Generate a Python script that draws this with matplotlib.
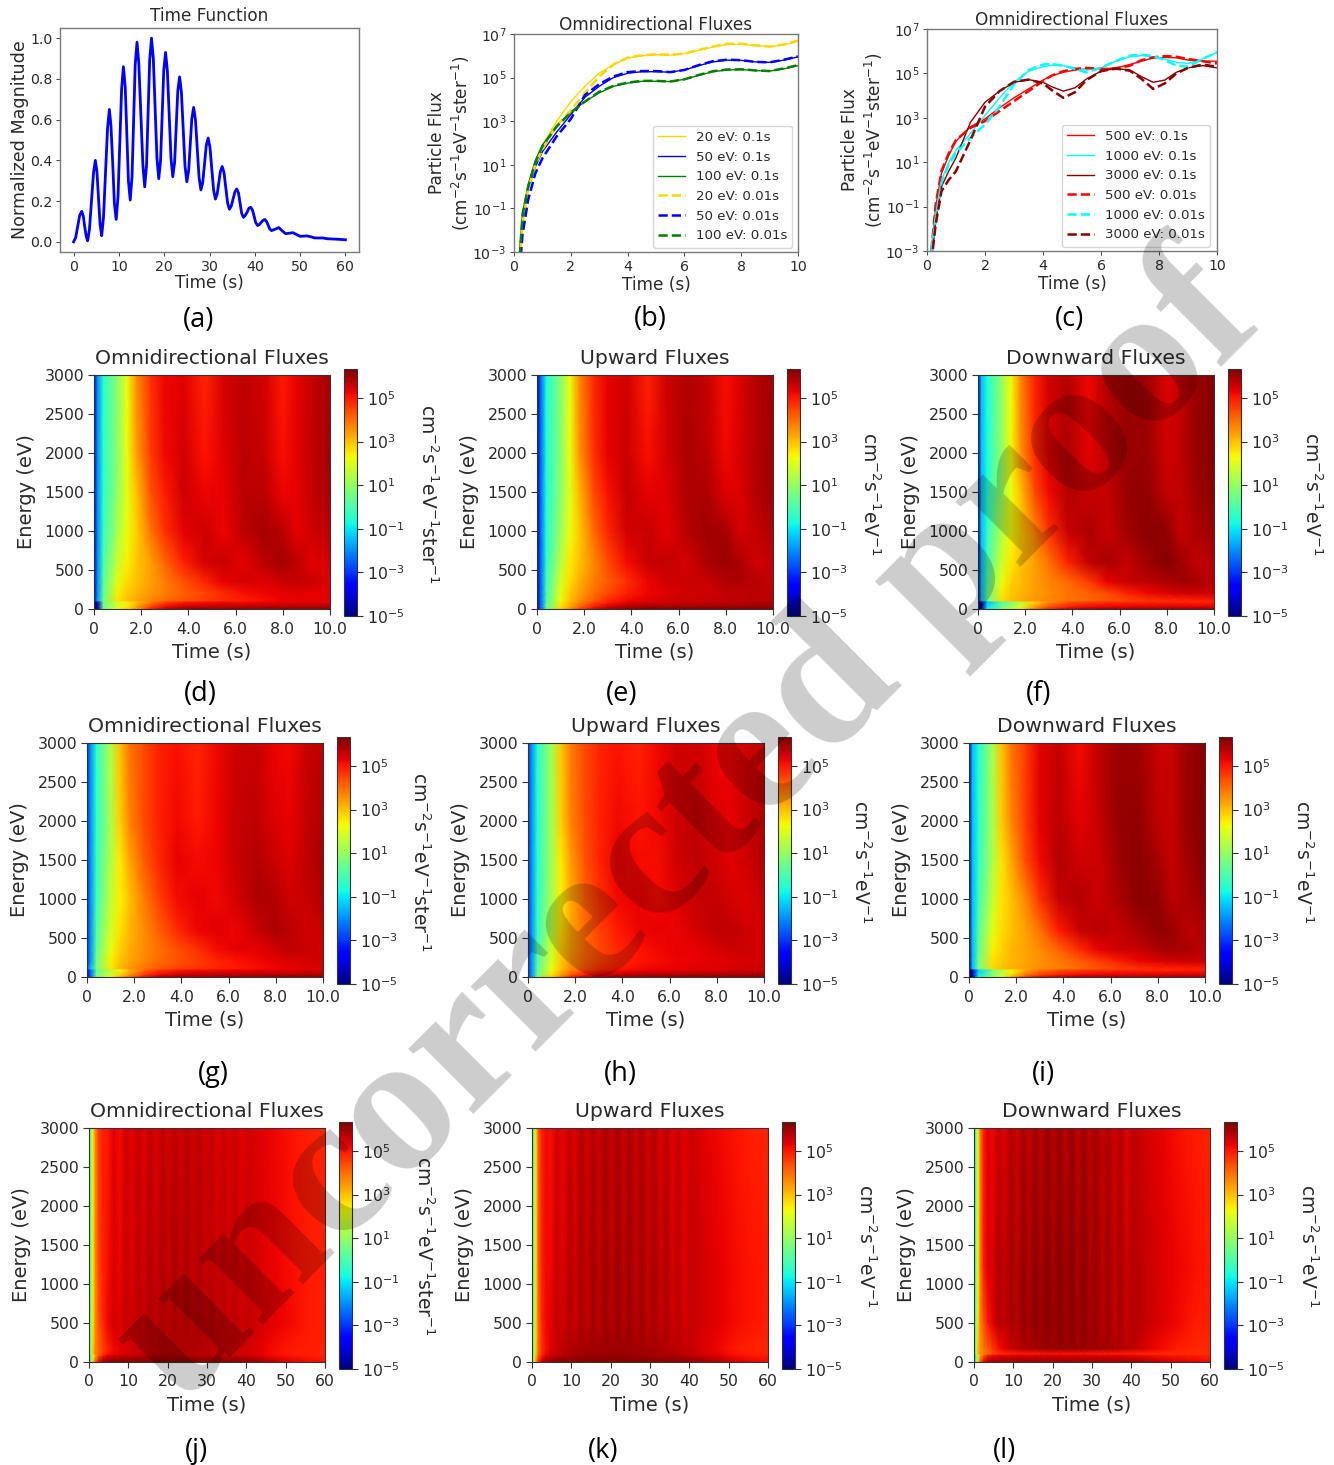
import numpy as np
import matplotlib
matplotlib.use("Agg")
import matplotlib.pyplot as plt
from matplotlib.colors import LogNorm

W, H = 1334, 1465

# (a) time function
pulse_t = [0, .45, .9, 1.35, 1.8, 2.15, 2.45, 2.8, 3.1, 3.5, 3.95, 4.4, 4.8, 5.15, 5.5, 5.85, 6.2,
           6.6, 7.05, 7.5, 7.9, 8.25, 8.65, 9, 9.4, 9.8, 10.2, 10.6, 11, 11.4, 11.75, 12.1, 12.5,
           12.9, 13.25, 13.6, 14, 14.4, 14.85, 15.3, 15.7, 16.1, 16.45, 16.8, 17.2, 17.6, 18, 18.4, 18.8,
           19.2, 19.55, 19.9, 20.3, 20.7, 21.1, 21.5, 21.9, 22.3, 22.65, 23, 23.4, 23.8, 24.2, 24.6, 25,
           25.4, 25.75, 26.1, 26.5, 26.9, 27.3, 27.7, 28.1, 28.5, 28.9, 29.3, 29.7, 30.1, 30.5, 30.9, 31.3,
           31.7, 32.05, 32.4, 32.8, 33.2, 33.6, 34, 34.4, 34.8, 35.2, 35.6, 36, 36.4, 36.75, 37.1, 37.5,
           37.9, 38.3, 38.7, 39.1, 39.5, 39.85, 40.2, 40.6, 41, 41.4, 41.8, 42.2, 42.6, 42.95, 43.3, 43.7,
           44.5, 45.3, 46, 46.8, 47.6, 48.4, 49.2, 50, 51.5, 52.5, 53.2, 55, 56, 58, 60]
pulse_y = [0, .02, .075, .13, .15, .125, .075, .025, .005, .06, .2, .34, .40, .345, .215, .085, .03,
           .12, .34, .56, .65, .57, .38, .19, .11, .22, .485, .75, .86, .76, .53, .30, .205,
           .32, .59, .87, .98, .875, .625, .375, .27, .375, .635, .895, 1.0, .9, .655, .41, .31,
           .4, .62, .84, .93, .84, .625, .41, .32, .39, .565, .74, .81, .735, .55, .37, .295,
           .35, .48, .605, .66, .6, .46, .315, .255, .29, .38, .475, .51, .465, .36, .255, .21,
           .235, .29, .345, .37, .34, .265, .19, .16, .175, .21, .245, .26, .24, .19, .14, .12,
           .13, .145, .165, .17, .155, .125, .095, .08, .085, .095, .105, .11, .1, .082, .063, .055,
           .062, .07, .055, .04, .042, .045, .036, .027, .029, .024, .019, .019, .015, .013, .01]

# (b) log10 flux
t_b = [.2, .3, .5, .75, 1, 1.5, 2, 2.5, 3, 3.5, 4, 4.5, 5, 5.5, 6, 6.5, 7, 7.5, 8, 8.5, 9, 9.5, 10]
b_20_01 = [-3, -1.4, 0, 1.1, 1.9, 3.0, 3.9, 4.6, 5.2, 5.6, 5.9, 6.0, 6.05, 6.03, 6.1, 6.25, 6.4, 6.52, 6.53, 6.47, 6.42, 6.5, 6.67]
b_50_01 = [-3, -1.6, -.1, .9, 1.6, 2.5, 3.3, 4.1, 4.6, 5.0, 5.2, 5.27, 5.27, 5.25, 5.35, 5.55, 5.72, 5.8, 5.79, 5.72, 5.7, 5.8, 5.95]
b_100_01 = [-3, -1.2, .1, 1.2, 1.9, 2.8, 3.4, 3.9, 4.3, 4.6, 4.75, 4.83, 4.83, 4.82, 4.92, 5.1, 5.27, 5.35, 5.37, 5.32, 5.3, 5.4, 5.55]
b_20_001 = [-3.6, -1.7, -.1, 1.0, 1.7, 2.8, 3.5, 4.3, 5.05, 5.6, 5.92, 6.02, 6.07, 6.05, 6.1, 6.27, 6.42, 6.55, 6.55, 6.48, 6.42, 6.52, 6.7]
b_50_001 = [-3.8, -2.2, -.6, .6, 1.3, 2.3, 3.1, 4.2, 4.7, 5.05, 5.25, 5.3, 5.3, 5.25, 5.35, 5.57, 5.75, 5.82, 5.8, 5.72, 5.7, 5.82, 5.97]
b_100_001 = [-3.2, -1.3, 0, 1.1, 1.85, 2.75, 3.4, 3.9, 4.35, 4.62, 4.77, 4.85, 4.85, 4.82, 4.92, 5.12, 5.29, 5.37, 5.38, 5.33, 5.3, 5.42, 5.57]

# (c) log10 flux
t_c = [.15, .3, .5, .75, 1, 1.5, 2, 2.5, 3, 3.5, 4, 4.3, 4.7, 5.1, 5.5, 6, 6.5, 7, 7.4, 7.8, 8.2, 8.6, 9, 9.5, 10]
c_500_01 = [-3, -1, .5, 1.3, 1.95, 2.6, 2.95, 3.45, 3.9, 4.3, 4.7, 4.9, 5.05, 5.15, 5.2, 5.2, 5.25, 5.4, 5.55, 5.7, 5.72, 5.7, 5.6, 5.55, 5.55]
c_1000_01 = [-3, -1.3, .2, 1, 1.55, 2.3, 3.1, 3.9, 4.6, 5.1, 5.3, 5.37, 5.35, 5.25, 5.15, 5.25, 5.55, 5.75, 5.8, 5.75, 5.65, 5.5, 5.45, 5.65, 5.95]
c_3000_01 = [-3.5, -1.7, -.1, .6, 1.2, 2.8, 3.7, 4.2, 4.6, 4.72, 4.6, 4.4, 4.2, 4.35, 4.75, 5.1, 5.22, 5.15, 4.85, 4.6, 4.7, 5.05, 5.25, 5.35, 5.25]
c_500_001 = [-3, -.9, .6, 1.4, 2.0, 2.55, 2.85, 3.3, 3.75, 4.2, 4.65, 4.9, 5.1, 5.2, 5.25, 5.2, 5.2, 5.35, 5.6, 5.72, 5.78, 5.75, 5.65, 5.55, 5.45]
c_1000_001 = [-3, -1.5, .1, .9, 1.4, 2.1, 2.7, 3.5, 4.5, 5.15, 5.4, 5.42, 5.35, 5.2, 5.05, 5.25, 5.55, 5.8, 5.85, 5.78, 5.6, 5.35, 5.3, 5.65, 5.95]
c_3000_001 = [-3.5, -1.8, -.3, .2, .6, 2.0, 3.5, 4.2, 4.62, 4.72, 4.55, 4.25, 3.9, 4.15, 4.7, 5.1, 5.22, 5.12, 4.75, 4.3, 4.55, 5.0, 5.25, 5.4, 5.3]

# heat maps, log10 flux, rows run from the top energy to 0 eV
t10 = [0, .15, .4, 1, 1.4, 1.8, 2.4, 3, 3.8, 4.7, 5.5, 6.3, 7.2, 8, 8.6, 9.3, 10]
e10 = [3000, 2000, 1500, 1000, 600, 350, 200, 110, 90, 30, 0]

grid_d = [
    [-4, -2, -.4, .9, 2.2, 3.6, 4.7, 5.25, 5.35, 4.85, 5.45, 5.7, 5.5, 5.0, 5.3, 5.7, 5.9],
    [-4, -2, -.4, .9, 2.2, 3.4, 4.6, 5.2, 5.5, 5.05, 5.4, 5.75, 5.6, 5.1, 5.35, 5.7, 5.95],
    [-4, -2, -.4, 1.0, 2.1, 3.0, 4.3, 5.0, 5.55, 5.25, 5.3, 5.75, 5.75, 5.25, 5.3, 5.7, 5.9],
    [-4, -2, -.3, 1.3, 2.2, 2.8, 3.9, 4.7, 5.35, 5.55, 5.25, 5.7, 5.95, 5.75, 5.3, 5.55, 5.75],
    [-4, -2, 0, 1.7, 2.4, 2.9, 3.4, 4.1, 4.95, 5.45, 5.6, 5.3, 5.75, 5.95, 5.7, 5.35, 5.5],
    [-4, -2, .2, 2.1, 2.7, 3.0, 3.4, 3.8, 4.3, 4.9, 5.3, 5.45, 5.4, 5.6, 5.65, 5.55, 5.4],
    [-4, -2, .3, 2.4, 2.9, 3.1, 3.5, 3.8, 4.2, 4.5, 4.8, 5.1, 5.25, 5.3, 5.35, 5.35, 5.4],
    [-3.5, -1.8, .5, 2.6, 3.0, 3.3, 3.7, 4.0, 4.3, 4.6, 4.8, 4.95, 5.1, 5.3, 5.3, 5.35, 5.4],
    [-5, -4.5, .4, 1.8, 2.4, 3.0, 3.8, 4.5, 5.0, 5.1, 5.2, 5.2, 5.25, 5.3, 5.3, 5.35, 5.4],
    [-5, -4.5, .5, 2.0, 2.5, 3.3, 4.5, 5.2, 5.6, 5.7, 5.7, 5.75, 5.8, 5.8, 5.8, 5.8, 5.8],
    [-5, -4.5, .5, 2.2, 2.8, 3.6, 5.0, 5.8, 6.1, 6.2, 6.2, 6.2, 6.2, 6.2, 6.2, 6.2, 6.2],
]
grid_e = [
    [-4.5, -2.5, -.6, .8, 2.2, 3.7, 4.8, 5.35, 5.5, 4.9, 5.55, 5.8, 5.65, 5.1, 5.4, 5.8, 5.95],
    [-4.5, -2.5, -.6, .8, 2.2, 3.5, 4.7, 5.3, 5.6, 5.1, 5.5, 5.85, 5.75, 5.2, 5.45, 5.8, 6.0],
    [-4.5, -2.5, -.6, .9, 2.1, 3.1, 4.4, 5.1, 5.65, 5.3, 5.4, 5.85, 5.85, 5.4, 5.4, 5.8, 6.0],
    [-4.5, -2.5, -.5, 1.1, 2.2, 2.9, 4.0, 4.85, 5.5, 5.6, 5.35, 5.75, 6.0, 5.9, 5.45, 5.65, 5.85],
    [-4.5, -2.5, -.4, 1.5, 2.5, 3.0, 3.7, 4.4, 5.15, 5.6, 5.65, 5.45, 5.85, 6.05, 5.85, 5.5, 5.65],
    [-4.5, -2.5, -.2, 1.9, 2.7, 3.2, 3.8, 4.2, 4.75, 5.25, 5.5, 5.55, 5.6, 5.8, 5.85, 5.75, 5.65],
    [-4.5, -2.5, -.1, 2.1, 2.9, 3.4, 4.0, 4.45, 4.95, 5.25, 5.4, 5.5, 5.55, 5.65, 5.7, 5.75, 5.75],
    [-4.5, -2.5, 0, 2.3, 3.0, 3.6, 4.2, 4.8, 5.2, 5.4, 5.5, 5.55, 5.6, 5.7, 5.7, 5.75, 5.75],
    [-4.5, -2.5, .1, 2.4, 3.1, 3.7, 4.4, 4.9, 5.3, 5.45, 5.55, 5.6, 5.65, 5.7, 5.75, 5.8, 5.8],
    [-4.5, -2.5, .3, 2.6, 3.4, 4.1, 5, 5.5, 5.85, 5.95, 6, 6, 6.05, 6.05, 6.05, 6.05, 6.05],
    [-4.5, -2.5, .5, 2.9, 3.8, 4.6, 5.5, 6, 6.2, 6.25, 6.3, 6.3, 6.3, 6.3, 6.3, 6.3, 6.3],
]
grid_f = [
    [-4.5, -1.5, -.6, 1.0, 2.3, 3.7, 4.9, 5.5, 5.8, 5.2, 5.85, 6.05, 6.0, 5.4, 5.7, 6.1, 6.25],
    [-4.5, -1.5, -.6, 1.0, 2.3, 3.5, 4.8, 5.45, 5.85, 5.35, 5.75, 6.1, 6.05, 5.5, 5.7, 6.1, 6.25],
    [-4.5, -1.5, -.5, 1.1, 2.2, 3.0, 4.4, 5.2, 5.8, 5.6, 5.65, 6.1, 6.15, 5.65, 5.65, 6.05, 6.2],
    [-4.5, -1.5, -.3, 1.4, 2.3, 2.85, 3.7, 4.7, 5.6, 5.85, 5.6, 5.95, 6.2, 6.15, 5.65, 5.85, 6.05],
    [-4.5, -1.5, -.1, 1.8, 2.5, 2.95, 3.4, 3.9, 4.9, 5.7, 5.9, 5.65, 6.0, 6.25, 6.0, 5.65, 5.8],
    [-4.5, -1.5, .1, 2.2, 2.8, 3.05, 3.4, 3.7, 4.0, 4.6, 5.3, 5.6, 5.7, 5.85, 6.0, 5.9, 5.7],
    [-4.5, -1.5, .3, 2.5, 2.9, 3.1, 3.4, 3.6, 3.9, 4.15, 4.4, 4.9, 5.2, 5.4, 5.5, 5.55, 5.55],
    [-4.5, -1.5, .5, 2.7, 3.0, 3.2, 3.5, 3.7, 3.9, 4.1, 4.3, 4.5, 4.65, 4.8, 4.85, 4.9, 4.95],
    [-5, -4.8, -1.5, .1, .7, 1.5, 2.8, 3.6, 4.3, 4.6, 4.75, 4.8, 4.85, 4.85, 4.9, 4.9, 4.95],
    [-5, -4.8, -1, .4, 1.1, 2.0, 3.4, 4.3, 4.9, 5.2, 5.3, 5.35, 5.4, 5.4, 5.4, 5.4, 5.4],
    [-5, -4.8, -.8, .8, 1.6, 2.6, 4, 5, 5.7, 6, 6.1, 6.1, 6.1, 6.1, 6.1, 6.1, 6.1],
]
grid_g = [
    [-3, -2, -.4, 1.4, 3.0, 3.9, 4.4, 4.9, 5.1, 4.85, 5.2, 5.55, 5.6, 5.25, 5.2, 5.6, 5.7],
    [-3, -2, -.4, 1.3, 2.8, 3.7, 4.4, 4.9, 5.2, 5.0, 5.25, 5.6, 5.7, 5.4, 5.3, 5.65, 5.85],
    [-3, -2, -.3, 1.4, 2.5, 3.3, 4.2, 4.8, 5.3, 5.15, 5.25, 5.6, 5.8, 5.55, 5.4, 5.7, 5.95],
    [-3, -2, -.2, 1.6, 2.4, 3.0, 3.8, 4.5, 5.15, 5.35, 5.2, 5.45, 5.85, 5.8, 5.5, 5.6, 5.8],
    [-3, -2, .1, 1.9, 2.6, 3.1, 3.6, 4.1, 4.8, 5.25, 5.4, 5.25, 5.6, 5.85, 5.75, 5.5, 5.6],
    [-3, -2, .3, 2.2, 2.8, 3.2, 3.6, 3.9, 4.3, 4.7, 5.15, 5.35, 5.3, 5.55, 5.7, 5.6, 5.5],
    [-3, -2, .5, 2.4, 3.0, 3.3, 3.7, 4.0, 4.3, 4.6, 4.85, 5.05, 5.2, 5.3, 5.4, 5.45, 5.5],
    [-2.5, -1.5, .6, 2.5, 3.1, 3.5, 3.9, 4.2, 4.5, 4.7, 4.85, 5.0, 5.1, 5.25, 5.3, 5.4, 5.45],
    [-3.5, -2.5, .3, 1.5, 2.3, 3.1, 4.0, 4.6, 5.0, 5.15, 5.2, 5.3, 5.3, 5.35, 5.4, 5.45, 5.5],
    [-3.5, -2.5, .5, 1.9, 2.8, 3.5, 4.6, 5.2, 5.5, 5.65, 5.7, 5.75, 5.8, 5.8, 5.85, 5.85, 5.85],
    [-3.5, -2.5, .6, 2.3, 3.2, 4.2, 5.2, 5.8, 6.05, 6.15, 6.2, 6.2, 6.2, 6.2, 6.2, 6.2, 6.2],
]
grid_h = [
    [-3, -2, -.5, 1.2, 2.9, 3.8, 4.4, 4.85, 5.05, 4.9, 5.2, 5.5, 5.5, 5.25, 5.3, 5.55, 5.65],
    [-3, -2, -.5, 1.2, 2.8, 3.7, 4.4, 4.9, 5.2, 5.05, 5.2, 5.55, 5.7, 5.4, 5.3, 5.6, 5.8],
    [-3, -2, -.5, 1.2, 2.5, 3.4, 4.3, 4.85, 5.3, 5.15, 5.15, 5.5, 5.7, 5.5, 5.35, 5.55, 5.8],
    [-3, -2, -.4, 1.3, 2.4, 3.2, 4.1, 4.7, 5.2, 5.3, 5.15, 5.4, 5.65, 5.65, 5.45, 5.4, 5.65],
    [-3, -2, -.3, 1.5, 2.6, 3.3, 4.0, 4.5, 5.0, 5.25, 5.3, 5.25, 5.5, 5.7, 5.7, 5.5, 5.5],
    [-3, -2, -.1, 1.8, 2.8, 3.4, 4.0, 4.4, 4.85, 5.05, 5.2, 5.3, 5.3, 5.45, 5.55, 5.55, 5.5],
    [-3, -2, .1, 2.0, 2.9, 3.5, 4.1, 4.5, 4.85, 5.05, 5.15, 5.25, 5.3, 5.35, 5.4, 5.45, 5.5],
    [-3, -2, .2, 2.2, 3.0, 3.6, 4.3, 4.7, 5.0, 5.15, 5.25, 5.3, 5.35, 5.4, 5.45, 5.5, 5.5],
    [-3, -2, .3, 2.3, 3.1, 3.7, 4.4, 4.8, 5.1, 5.25, 5.3, 5.35, 5.4, 5.45, 5.5, 5.5, 5.55],
    [-3, -2, .5, 2.6, 3.4, 4.2, 5.0, 5.4, 5.7, 5.8, 5.85, 5.85, 5.9, 5.9, 5.9, 5.9, 5.9],
    [-3, -2, .8, 3.0, 4.0, 5.0, 5.8, 6.1, 6.2, 6.2, 6.2, 6.2, 6.2, 6.2, 6.2, 6.2, 6.2],
]
grid_i = [
    [-4.5, -1.5, -.6, 1.3, 3.0, 3.9, 4.6, 5.35, 5.65, 5.15, 5.7, 6.05, 6.0, 5.6, 5.6, 6.05, 6.2],
    [-4.5, -1.5, -.5, 1.3, 2.9, 3.7, 4.6, 5.35, 5.75, 5.35, 5.65, 6.1, 6.15, 5.7, 5.6, 6.1, 6.25],
    [-4.5, -1.5, -.4, 1.4, 2.6, 3.3, 4.4, 5.2, 5.8, 5.55, 5.55, 6.0, 6.2, 5.9, 5.6, 6.0, 6.25],
    [-4.5, -1.5, -.2, 1.7, 2.6, 3.0, 3.7, 4.7, 5.6, 5.8, 5.55, 5.85, 6.2, 6.15, 5.75, 5.85, 6.1],
    [-4.5, -1.5, .1, 2.1, 2.7, 3.0, 3.4, 3.9, 5.0, 5.6, 5.75, 5.6, 5.9, 6.15, 6.05, 5.75, 5.8],
    [-4.5, -1.5, .3, 2.4, 2.8, 3.1, 3.35, 3.6, 4.1, 4.8, 5.3, 5.55, 5.6, 5.85, 5.95, 5.85, 5.7],
    [-4.5, -1.5, .5, 2.6, 2.9, 3.1, 3.35, 3.55, 3.85, 4.2, 4.55, 4.95, 5.25, 5.4, 5.5, 5.55, 5.55],
    [-4.5, -1.5, .6, 2.7, 3.0, 3.2, 3.4, 3.6, 3.8, 4.05, 4.3, 4.5, 4.7, 4.85, 4.9, 4.95, 5.0],
    [-5, -4.5, -1.3, .5, 1.4, 2.3, 3.3, 3.9, 4.3, 4.6, 4.7, 4.8, 4.85, 4.9, 4.9, 4.95, 5.0],
    [-5, -4.5, -1, .8, 1.7, 2.7, 3.9, 4.5, 5, 5.2, 5.3, 5.35, 5.4, 5.4, 5.45, 5.45, 5.45],
    [-5, -4.5, -.5, 1.2, 2.2, 3.4, 4.7, 5.4, 5.8, 5.9, 6, 6, 6, 6, 6, 6, 6],
]

t60 = [0, .3, .6, 1, 1.6, 2.5, 3.5, 4.7, 6.3, 7.8, 9.4, 10.9, 12.5, 14, 15.6, 17.1, 18.7, 20.2, 21.8,
       23.3, 24.9, 26.4, 28, 29.5, 31.1, 32.6, 34.2, 35.7, 37.3, 38.8, 40.4, 44, 48, 52, 56, 60]
e60 = [3000, 1200, 500, 170, 105, 90, 0]

grid_j = [
    [-1, -.3, 1.0, 2.5, 3.6, 4.6, 4.95, 5.0, 5.4, 5.15, 5.55, 5.3, 5.65, 5.35, 5.7, 5.4, 5.75, 5.45, 5.75, 5.5, 5.75, 5.5, 5.7, 5.45, 5.65, 5.4, 5.6, 5.4, 5.55, 5.35, 5.5, 5.35, 5.2, 5.05, 4.95, 4.85],
    [-1, -.3, 1.0, 2.5, 3.6, 4.5, 4.9, 5.1, 5.45, 5.25, 5.6, 5.4, 5.7, 5.5, 5.8, 5.55, 5.85, 5.6, 5.9, 5.65, 5.85, 5.65, 5.8, 5.6, 5.75, 5.55, 5.7, 5.5, 5.65, 5.45, 5.6, 5.4, 5.25, 5.1, 5.0, 4.95],
    [-1, -.2, 1.1, 2.6, 3.6, 4.3, 4.8, 5.2, 5.5, 5.4, 5.65, 5.5, 5.75, 5.6, 5.85, 5.7, 5.9, 5.75, 5.95, 5.8, 5.95, 5.8, 5.9, 5.75, 5.85, 5.7, 5.75, 5.6, 5.7, 5.55, 5.65, 5.45, 5.3, 5.15, 5.0, 4.95],
    [-1, -.1, 1.3, 2.8, 3.7, 4.1, 4.5, 4.9, 5.2, 5.3, 5.4, 5.5, 5.6, 5.65, 5.7, 5.75, 5.8, 5.8, 5.85, 5.85, 5.85, 5.85, 5.8, 5.8, 5.75, 5.75, 5.7, 5.65, 5.6, 5.55, 5.5, 5.3, 5.1, 5.0, 4.95, 4.9],
    [-1, 0, 1.4, 2.9, 3.8, 4.2, 4.6, 5.0, 5.25, 5.35, 5.45, 5.55, 5.6, 5.65, 5.7, 5.75, 5.8, 5.8, 5.8, 5.8, 5.8, 5.8, 5.75, 5.75, 5.7, 5.7, 5.65, 5.6, 5.55, 5.5, 5.45, 5.3, 5.1, 5.0, 4.95, 4.9],
    [-2, -1, .8, 2.2, 3.2, 4.2, 4.9, 5.3, 5.5, 5.55, 5.6, 5.65, 5.7, 5.75, 5.8, 5.8, 5.85, 5.85, 5.85, 5.85, 5.85, 5.85, 5.8, 5.8, 5.75, 5.75, 5.7, 5.65, 5.6, 5.55, 5.5, 5.3, 5.1, 5.0, 4.95, 4.9],
    [-2, -1, 1, 3, 4.2, 5.5, 6.1, 6.2, 6.25, 6.25, 6.3, 6.3, 6.3, 6.3, 6.3, 6.3, 6.3, 6.3, 6.3, 6.3, 6.3, 6.3, 6.3, 6.3, 6.3, 6.25, 6.25, 6.25, 6.2, 6.2, 6.2, 6.0, 5.7, 5.4, 5.2, 5.1],
]
grid_k = [
    [-.8, -.2, 1.0, 2.6, 4.2, 4.9, 5.2, 5.1, 5.5, 5.25, 5.65, 5.35, 5.8, 5.45, 5.85, 5.5, 5.9, 5.55, 5.9, 5.55, 5.9, 5.5, 5.85, 5.45, 5.8, 5.4, 5.7, 5.35, 5.65, 5.3, 5.55, 5.35, 5.2, 5.05, 4.95, 4.9],
    [-.8, -.2, 1.0, 2.6, 4.1, 4.9, 5.2, 5.2, 5.6, 5.35, 5.8, 5.5, 5.9, 5.6, 6.0, 5.65, 6.05, 5.7, 6.1, 5.7, 6.05, 5.65, 6.0, 5.6, 5.95, 5.55, 5.85, 5.45, 5.75, 5.4, 5.65, 5.45, 5.3, 5.15, 5.05, 5.0],
    [-.8, -.1, 1.1, 2.7, 4.0, 4.8, 5.2, 5.3, 5.65, 5.45, 5.8, 5.55, 5.9, 5.65, 6.0, 5.7, 6.05, 5.75, 6.1, 5.75, 6.1, 5.7, 6.05, 5.65, 5.95, 5.6, 5.85, 5.5, 5.75, 5.45, 5.65, 5.45, 5.3, 5.15, 5.05, 4.95],
    [-.8, 0, 1.2, 2.8, 4.0, 4.7, 5.1, 5.4, 5.6, 5.7, 5.8, 5.85, 5.9, 5.95, 5.95, 6.0, 6.0, 6.0, 6.0, 6.0, 6.0, 5.95, 5.95, 5.9, 5.9, 5.85, 5.8, 5.75, 5.7, 5.65, 5.6, 5.4, 5.2, 5.0, 4.9, 4.85],
    [-.8, 0, 1.3, 2.9, 4.1, 4.8, 5.2, 5.5, 5.65, 5.75, 5.85, 5.9, 5.95, 6.0, 6.0, 6.0, 6.05, 6.05, 6.05, 6.05, 6.0, 6.0, 6.0, 5.95, 5.95, 5.9, 5.85, 5.8, 5.75, 5.7, 5.65, 5.45, 5.25, 5.05, 4.95, 4.9],
    [-.8, .1, 1.4, 3.0, 4.2, 4.9, 5.3, 5.55, 5.7, 5.8, 5.85, 5.95, 6.0, 6.0, 6.05, 6.05, 6.05, 6.05, 6.05, 6.05, 6.05, 6.05, 6.0, 6.0, 5.95, 5.9, 5.9, 5.85, 5.8, 5.75, 5.7, 5.5, 5.3, 5.1, 5.0, 4.95],
    [-.8, .3, 2, 3.5, 4.8, 5.7, 6.1, 6.2, 6.25, 6.3, 6.3, 6.3, 6.3, 6.3, 6.3, 6.3, 6.3, 6.3, 6.3, 6.3, 6.3, 6.3, 6.3, 6.3, 6.3, 6.25, 6.25, 6.25, 6.2, 6.2, 6.2, 6.05, 5.8, 5.5, 5.3, 5.15],
]
grid_l = [
    [-.6, -.6, .6, 2.2, 3.8, 5.0, 5.4, 5.2, 5.65, 5.35, 5.85, 5.5, 5.95, 5.6, 6.0, 5.65, 6.1, 5.7, 6.1, 5.7, 6.1, 5.65, 6.05, 5.6, 6.0, 5.55, 5.9, 5.45, 5.8, 5.35, 5.7, 5.45, 5.3, 5.1, 5.0, 4.9],
    [-.6, -.6, .7, 2.3, 3.8, 5.0, 5.4, 5.4, 5.85, 5.6, 6.0, 5.7, 6.15, 5.8, 6.2, 5.85, 6.25, 5.9, 6.25, 5.9, 6.25, 5.85, 6.2, 5.8, 6.1, 5.7, 6.05, 5.6, 5.95, 5.5, 5.8, 5.6, 5.4, 5.25, 5.1, 5.0],
    [-.6, -.5, 1.0, 2.6, 3.7, 4.3, 5.0, 5.35, 5.8, 5.6, 6.0, 5.75, 6.15, 5.85, 6.2, 5.9, 6.25, 5.95, 6.25, 5.95, 6.25, 5.9, 6.2, 5.85, 6.1, 5.75, 6.05, 5.65, 5.95, 5.6, 5.8, 5.6, 5.4, 5.2, 5.0, 4.95],
    [-.6, -.3, 1.4, 3.0, 3.5, 3.9, 4.2, 4.6, 5.1, 5.35, 5.55, 5.7, 5.8, 5.85, 5.95, 6.0, 6.05, 6.05, 6.1, 6.1, 6.1, 6.05, 6.05, 6.0, 6.0, 5.95, 5.9, 5.85, 5.8, 5.75, 5.7, 5.4, 5.15, 4.95, 4.85, 4.8],
    [-.6, -.2, 1.5, 3.1, 3.5, 3.8, 4.1, 4.4, 4.65, 4.8, 4.9, 4.95, 5.0, 5.0, 5.0, 5.05, 5.05, 5.05, 5.05, 5.05, 5.05, 5.05, 5.05, 5.0, 5.0, 5.0, 5.0, 4.95, 4.95, 4.9, 4.9, 4.85, 4.8, 4.8, 4.75, 4.75],
    [-3, -1, .3, 2, 3.3, 4.2, 4.9, 5.2, 5.3, 5.35, 5.35, 5.4, 5.4, 5.4, 5.4, 5.4, 5.4, 5.4, 5.4, 5.4, 5.4, 5.4, 5.4, 5.35, 5.35, 5.35, 5.3, 5.3, 5.3, 5.25, 5.25, 5.15, 5.05, 5.0, 4.95, 4.9],
    [-3, -.8, .8, 2.8, 4.2, 5.4, 5.9, 6, 6.05, 6.1, 6.1, 6.15, 6.15, 6.15, 6.15, 6.15, 6.15, 6.15, 6.15, 6.15, 6.15, 6.15, 6.15, 6.15, 6.15, 6.1, 6.1, 6.1, 6.1, 6.05, 6.05, 5.9, 5.7, 5.5, 5.3, 5.15],
]

OMNI = "Omnidirectional Fluxes"
UP = "Upward Fluxes"
DOWN = "Downward Fluxes"
UNIT_OMNI = r"cm$^{-2}$s$^{-1}$eV$^{-1}$ster$^{-1}$"
UNIT = r"cm$^{-2}$s$^{-1}$eV$^{-1}$"
TEXT = "#2a2a2a"

plt.rcParams["font.family"] = "DejaVu Sans"
plt.rcParams["mathtext.default"] = "regular"
plt.rcParams["text.color"] = TEXT
plt.rcParams["axes.labelcolor"] = TEXT
plt.rcParams["xtick.labelcolor"] = TEXT
plt.rcParams["ytick.labelcolor"] = TEXT

fig = plt.figure(figsize=(W / 100, H / 100), dpi=100)


# axes placed by their pixel box in the picture
def px_axes(left, top, right, bottom):
    return fig.add_axes([left / W, 1 - bottom / H, (right - left) / W, (bottom - top) / H])


def px_text(x, y, s, **kw):
    fig.text(x / W, 1 - y / H, s, ha="center", va="center", **kw)


def line_frame(ax):
    for s in ax.spines.values():
        s.set_color("#7a7a7a")
        s.set_linewidth(1.0)
    ax.tick_params(length=3, width=0.7, color="#444444", labelsize=10.2, pad=2.5)


ax = px_axes(60, 28, 359, 252)
ax.plot(pulse_t, pulse_y, color="blue", lw=2)
ax.set_xticks(range(0, 61, 10))
ax.set_yticks([0, .2, .4, .6, .8, 1.0])
ax.set_title("Time Function", fontsize=12.2, pad=5)
ax.set_xlabel("Time (s)", fontsize=12.2, labelpad=0)
ax.set_ylabel("Normalized Magnitude", fontsize=12.6, labelpad=1)
line_frame(ax)


def flux_panel(box, t, series, title, legend_x):
    ax = px_axes(*box)
    for vals, color, label, dashed in series:
        y = 10.0 ** np.array(vals)
        if dashed:
            ax.plot(t, y, color=color, lw=1.8, ls="--", label=label)
        else:
            ax.plot(t, y, color=color, lw=1.0, label=label)
    ax.set_yscale("log")
    ax.set_xlim(0, 10)
    ax.set_ylim(1e-3, 1e7)
    ax.set_yticks([1e-3, 1e-1, 1e1, 1e3, 1e5, 1e7])
    ax.minorticks_off()
    ax.set_xticks(range(0, 11, 2))
    ax.set_title(title, fontsize=12.2, pad=3)
    ax.set_xlabel("Time (s)", fontsize=12.2, labelpad=2)
    ax.set_ylabel("Particle Flux\n" + r"(cm$^{-2}$s$^{-1}$eV$^{-1}$ster$^{-1}$)", fontsize=12.2, labelpad=0.5)
    ax.legend(loc="lower right", fontsize=9.6, bbox_to_anchor=(legend_x, 0.02), borderaxespad=0)
    line_frame(ax)


flux_panel((514, 34, 798, 252), t_b, [
    (b_20_01, "gold", "20 eV: 0.1s", False),
    (b_50_01, "blue", "50 eV: 0.1s", False),
    (b_100_01, "green", "100 eV: 0.1s", False),
    (b_20_001, "gold", "20 eV: 0.01s", True),
    (b_50_001, "blue", "50 eV: 0.01s", True),
    (b_100_001, "green", "100 eV: 0.01s", True),
], OMNI, 0.98)
flux_panel((927, 29, 1217, 251), t_c, [
    (c_500_01, "red", "500 eV: 0.1s", False),
    (c_1000_01, "cyan", "1000 eV: 0.1s", False),
    (c_3000_01, "darkred", "3000 eV: 0.1s", False),
    (c_500_001, "red", "500 eV: 0.01s", True),
    (c_1000_001, "cyan", "1000 eV: 0.01s", True),
    (c_3000_001, "darkred", "3000 eV: 0.01s", True),
], OMNI, 0.976)

norm = LogNorm(vmin=1e-5, vmax=10 ** 6.33)


def heat_panel(left, top, t, e, grid, title, unit, unit_xy, xticks, xlabels):
    ax = px_axes(left, top, left + 236, top + 234)
    z = 10.0 ** np.array(grid)[::-1]
    mesh = ax.pcolormesh(t, e[::-1], z, norm=norm, cmap="jet", shading="gouraud")
    ax.set_xlim(0, t[-1])
    ax.set_ylim(0, 3000)
    ax.set_xticks(xticks)
    ax.set_xticklabels(xlabels)
    ax.set_yticks(range(0, 3001, 500))
    ax.set_title(title, fontsize=14.7, pad=8)
    ax.set_xlabel("Time (s)", fontsize=14, labelpad=4)
    ax.set_ylabel("Energy (eV)", fontsize=14, labelpad=6)
    ax.tick_params(length=4, width=0.8, labelsize=11.3, color="#333333")
    ax.tick_params(axis="x", pad=5)
    ax.tick_params(axis="y", pad=3)
    for s in ax.spines.values():
        s.set_color("#333333")
    cax = px_axes(left + 250, top - 6, left + 263, top + 241)
    cb = fig.colorbar(mesh, cax=cax)
    cb.set_ticks([1e-5, 1e-3, 1e-1, 1e1, 1e3, 1e5])
    cb.minorticks_off()
    cax.tick_params(length=4, width=0.8, labelsize=11.3, pad=3, color="#333333")
    cb.outline.set_edgecolor("#333333")
    px_text(unit_xy[0], unit_xy[1], unit, fontsize=13.5, rotation=270, color=TEXT)


ticks10 = [0, 2, 4, 6, 8, 10]
labels10 = ["0", "2.0", "4.0", "6.0", "8.0", "10.0"]
ticks60 = [0, 10, 20, 30, 40, 50, 60]
labels60 = ["0", "10", "20", "30", "40", "50", "60"]

heat_panel(94, 375, t10, e10, grid_d, OMNI, UNIT_OMNI, (428, 494), ticks10, labels10)
heat_panel(537, 375, t10, e10, grid_e, UP, UNIT, (870, 494), ticks10, labels10)
heat_panel(978, 375, t10, e10, grid_f, DOWN, UNIT, (1312, 494), ticks10, labels10)
heat_panel(87, 743, t10, e10, grid_g, OMNI, UNIT_OMNI, (420, 862), ticks10, labels10)
heat_panel(528, 743, t10, e10, grid_h, UP, UNIT, (861, 862), ticks10, labels10)
heat_panel(969, 743, t10, e10, grid_i, DOWN, UNIT, (1303, 862), ticks10, labels10)
heat_panel(89, 1128, t60, e60, grid_j, OMNI, UNIT_OMNI, (424, 1246), ticks60, labels60)
heat_panel(532, 1128, t60, e60, grid_k, UP, UNIT, (866, 1246), ticks60, labels60)
heat_panel(974, 1128, t60, e60, grid_l, DOWN, UNIT, (1308, 1246), ticks60, labels60)

panel_labels = [("(a)", 199, 320), ("(b)", 650, 319), ("(c)", 1070, 319),
                ("(d)", 200, 694), ("(e)", 622, 694), ("(f)", 1039, 694),
                ("(g)", 213, 1074), ("(h)", 620, 1074), ("(i)", 1043, 1074),
                ("(j)", 196, 1451), ("(k)", 603, 1451), ("(l)", 1005, 1451)]
for s, x, y in panel_labels:
    px_text(x, y, s, fontsize=19.5, family="Open Sans", color="black")

# watermark, black with low alpha so it darkens what lies under it
px_text(688, 830, "uncorrected proof", fontsize=143, family="Liberation Serif", weight="bold",
        rotation=45, rotation_mode="anchor", color="black", alpha=0.2, zorder=50)

fig.savefig("out.png", dpi=100)
